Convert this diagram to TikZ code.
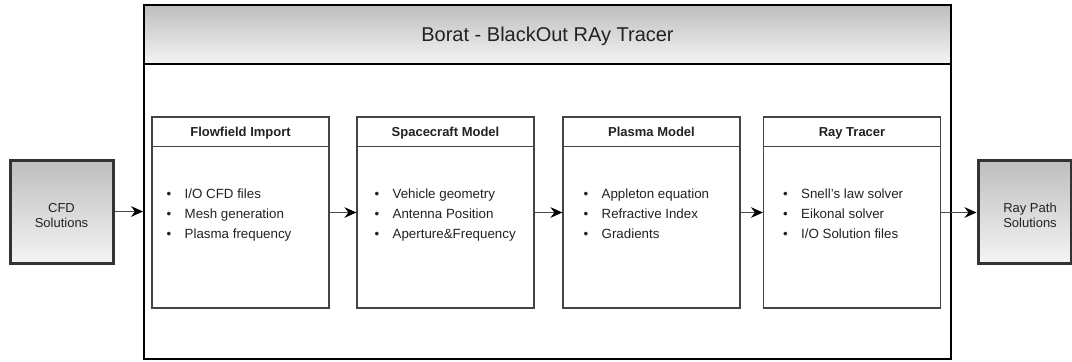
\documentclass[tikz,border=0pt]{standalone}
\usepackage{fontspec}
\setmainfont{Liberation Sans}
\usetikzlibrary{arrows.meta}
\definecolor{txt}{HTML}{222222}
\definecolor{shtop}{HTML}{BEBEBE}
\definecolor{shbot}{HTML}{F4F4F4}
\definecolor{blkline}{HTML}{444444}
\newcommand\blt{\makebox[13.5pt][l]{\textbullet}}
\tikzset{
  outerbox/.style={draw=black, line width=1.5pt, fill=white, minimum width=807*0.75pt, minimum height=354*0.75pt, inner sep=0},
  hdrbox/.style={draw=black, line width=1.5pt, top color=shtop, bottom color=shbot, minimum width=807*0.75pt, minimum height=59*0.75pt, inner sep=0, font=\fontsize{15}{18}\selectfont, text=txt, text height=10.7pt, text depth=0pt},
  blk/.style={draw=blkline, line width=0.9pt, fill=white, minimum width=177*0.75pt, minimum height=191*0.75pt, inner sep=0},
  sep/.style={draw=blkline, line width=0.9pt},
  htxt/.style={font=\bfseries\fontsize{9.75}{12}\selectfont, text=txt, inner sep=0, text height=7.1pt, text depth=0pt},
  lst/.style={align=left, anchor=west, inner sep=0, font=\fontsize{10}{15}\selectfont, text=txt, text height=41.5pt, text depth=2.5pt},
  src/.style={draw=black!80, line width=2.25pt, top color=shtop, bottom color=shbot, minimum width=103*0.75pt, minimum height=103*0.75pt, inner sep=0, align=center, font=\fontsize{9.75}{11.25}\selectfont, text=txt, text height=24pt, text depth=0pt},
  arr/.style={draw=black!70, line width=0.75pt, -{Stealth[length=9pt, width=8pt, inset=3pt, color=black, fill=black]}}
}
\begin{document}
\begin{tikzpicture}[x=0.75pt, y=-0.75pt]
\useasboundingbox (0,0) rectangle (1072,361);
% container
\node[outerbox] (outer) at (547.5,182) {};
\node[hdrbox] (hdr) at (547.5,34.5) {Borat - BlackOut RAy Tracer};
% external boxes
\node[src] (cfd) at (61.5,211.5) {CFD\\Solutions};
\node[src, minimum width=93*0.75pt] (rp) at (1024.5,211.5) {\hspace*{8.25pt}Ray Path\\\hspace*{8.25pt}Solutions};
% inner blocks
\node[blk] (f) at (240.5,212.5) {};
\node[blk] (s) at (445.5,212.5) {};
\node[blk] (p) at (651.5,212.5) {};
\node[blk] (r) at (852,212.5) {};
\foreach \b in {f,s,p,r}{
  \draw[sep] ([yshift=-22.5pt]\b.north west) -- ([yshift=-22.5pt]\b.north east);
}
\node[htxt] (ft) at ([yshift=-11.25pt]f.north) {Flowfield Import};
\node[htxt] (st) at ([yshift=-11.25pt]s.north) {Spacecraft Model};
\node[htxt] (pt) at ([yshift=-11.25pt]p.north) {Plasma Model};
\node[htxt] (rt) at ([yshift=-11.25pt]r.north) {Ray Tracer};
\node[lst] (fl) at ([xshift=15*0.75pt]f.west) {\blt I/O CFD files\\\blt Mesh generation\\\blt Plasma frequency};
\node[lst] (sl) at ([xshift=18*0.75pt]s.west) {\blt Vehicle geometry\\\blt Antenna Position\\\blt Aperture\&Frequency};
\node[lst] (pl) at ([xshift=21*0.75pt]p.west) {\blt Appleton equation\\\blt Refractive Index\\\blt Gradients};
\node[lst] (rl) at ([xshift=20*0.75pt]r.west) {\blt Snell's law solver\\\blt Eikonal solver\\\blt I/O Solution files};
% connectors
\draw[arr] (cfd.east) -- (cfd.east -| outer.west);
\draw[arr] (f.east) -- (s.west);
\draw[arr] (s.east) -- (p.west);
\draw[arr] (p.east) -- (r.west);
\draw[arr] (r.east) -- (r.east -| rp.west);
\end{tikzpicture}
\end{document}
